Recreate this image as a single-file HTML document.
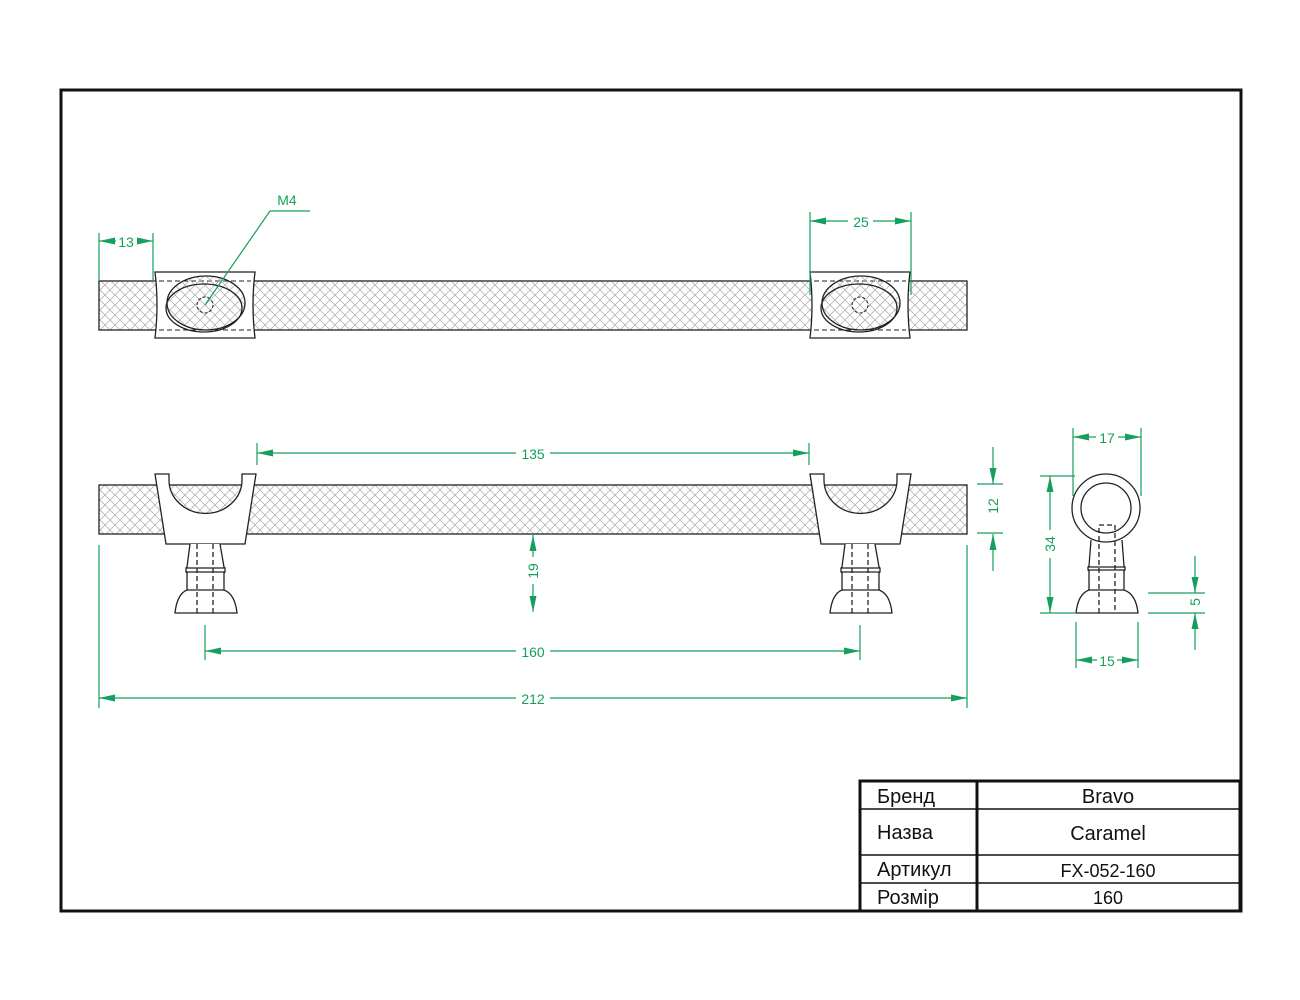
<!DOCTYPE html>
<html><head><meta charset="utf-8"><style>
html,body{margin:0;padding:0;background:#fff}
svg{display:block}
text{font-family:"Liberation Sans",sans-serif}
</style></head><body>
<svg width="1300" height="1000" viewBox="0 0 1300 1000" xmlns="http://www.w3.org/2000/svg">
<defs>
<pattern id="h" width="10" height="10" patternUnits="userSpaceOnUse">
<path d="M0 0L10 10M10 0L0 10" stroke="#a8a8a8" stroke-width="0.7"/>
</pattern>
<marker id="a" viewBox="0 0 16 7" refX="16" refY="3.5" markerWidth="16" markerHeight="7" markerUnits="userSpaceOnUse" orient="auto-start-reverse">
<path d="M0 0L16 3.5L0 7z" fill="#14a05a"/>
</marker>
<g id="tb">
<path d="M-50 -33 L50 -33 Q46 0 50 33 L-50 33 Q-46 0 -50 -33Z" fill="#fff" stroke="#222" stroke-width="1.3"/>
<line x1="-46" y1="-24" x2="46" y2="-24" stroke="#222" stroke-dasharray="5,3"/>
<line x1="-46" y1="25" x2="46" y2="25" stroke="#222" stroke-dasharray="5,3"/>
<ellipse cx="1" cy="-2" rx="39" ry="27" fill="url(#h)" stroke="#222" stroke-width="1.3"/>
<ellipse cx="-1" cy="3" rx="38" ry="24" fill="none" stroke="#222" stroke-width="1.3"/>
<circle cx="0" cy="0" r="8" fill="none" stroke="#222" stroke-dasharray="3,2"/>
</g>
<g id="sb" stroke="#222" stroke-width="1.3">
<path d="M-50 -11 L-36 -11 L-36 -5 A36 33 0 0 0 37 -5 L37 -11 L51 -11 L40 59 L-39 59Z" fill="#fff"/>
<path d="M-15 59 L-18 82 L-19 83 L-19 87 L-18 88 L-18 105 Q-28 109 -30 128 L32 128 Q30 109 19 105 L19 88 L20 87 L20 83 L19 82 L15 59" fill="#fff"/>
<line x1="-19" y1="83" x2="20" y2="83"/><line x1="-19" y1="87" x2="20" y2="87"/>
<line x1="-18" y1="105" x2="19" y2="105"/>
<line x1="-8" y1="59" x2="-8" y2="128" stroke-dasharray="5,3"/>
<line x1="8" y1="59" x2="8" y2="128" stroke-dasharray="5,3"/>
</g>
</defs>
<rect x="61" y="90" width="1180" height="821" fill="none" stroke="#111" stroke-width="3"/>

<rect x="99" y="281" width="868" height="49" fill="url(#h)" stroke="#222" stroke-width="1.3"/>
<use href="#tb" x="205" y="305"/>
<use href="#tb" x="860" y="305"/>

<rect x="99" y="485" width="868" height="49" fill="url(#h)" stroke="#222" stroke-width="1.3"/>
<use href="#sb" x="205" y="485"/>
<use href="#sb" x="860" y="485"/>

<g stroke="#222" stroke-width="1.3" fill="none">
<path d="M1091 540 L1089 566 L1088 567 L1088 570 L1089 571 L1089 590 Q1078 594 1076 613 L1138 613 Q1136 594 1124 590 L1124 571 L1125 570 L1125 567 L1124 566 L1122 540" fill="#fff"/>
<line x1="1088" y1="567" x2="1125" y2="567"/><line x1="1088" y1="570" x2="1125" y2="570"/>
<line x1="1089" y1="590" x2="1124" y2="590"/>
<circle cx="1106" cy="508" r="34" fill="#fff"/>
<circle cx="1106" cy="508" r="25"/>
<path d="M1099 613 L1099 525 L1115 525 L1115 613" stroke-dasharray="5,3"/>
</g>

<g stroke="#14a05a" stroke-width="1.2" fill="none">
<line x1="99" y1="233" x2="99" y2="281"/><line x1="153" y1="233" x2="153" y2="281"/>
<line x1="116" y1="241" x2="99" y2="241" marker-end="url(#a)"/><line x1="137" y1="241" x2="153" y2="241" marker-end="url(#a)"/>
<polyline points="205,305 270,211 310,211"/>
<line x1="810" y1="212" x2="810" y2="295"/><line x1="911" y1="212" x2="911" y2="295"/>
<line x1="848" y1="221" x2="810" y2="221" marker-end="url(#a)"/><line x1="873" y1="221" x2="911" y2="221" marker-end="url(#a)"/>
<line x1="257" y1="443" x2="257" y2="465"/><line x1="809" y1="443" x2="809" y2="465"/>
<line x1="516" y1="453" x2="257" y2="453" marker-end="url(#a)"/><line x1="550" y1="453" x2="809" y2="453" marker-end="url(#a)"/>
<line x1="977" y1="484" x2="1003" y2="484"/><line x1="977" y1="533" x2="1003" y2="533"/>
<line x1="993" y1="447" x2="993" y2="484" marker-end="url(#a)"/><line x1="993" y1="571" x2="993" y2="534" marker-end="url(#a)"/>
<line x1="533" y1="557" x2="533" y2="535" marker-end="url(#a)"/><line x1="533" y1="584" x2="533" y2="612" marker-end="url(#a)"/>
<line x1="205" y1="625" x2="205" y2="660"/><line x1="860" y1="625" x2="860" y2="660"/>
<line x1="516" y1="651" x2="205" y2="651" marker-end="url(#a)"/><line x1="550" y1="651" x2="860" y2="651" marker-end="url(#a)"/>
<line x1="99" y1="545" x2="99" y2="708"/><line x1="967" y1="545" x2="967" y2="708"/>
<line x1="516" y1="698" x2="99" y2="698" marker-end="url(#a)"/><line x1="550" y1="698" x2="967" y2="698" marker-end="url(#a)"/>
<line x1="1073" y1="428" x2="1073" y2="496"/><line x1="1141" y1="428" x2="1141" y2="496"/>
<line x1="1096" y1="437" x2="1073" y2="437" marker-end="url(#a)"/><line x1="1118" y1="437" x2="1141" y2="437" marker-end="url(#a)"/>
<line x1="1040" y1="476" x2="1075" y2="476"/><line x1="1040" y1="613" x2="1075" y2="613"/>
<line x1="1050" y1="530" x2="1050" y2="476" marker-end="url(#a)"/><line x1="1050" y1="558" x2="1050" y2="613" marker-end="url(#a)"/>
<line x1="1076" y1="622" x2="1076" y2="668"/><line x1="1138" y1="622" x2="1138" y2="668"/>
<line x1="1097" y1="660" x2="1076" y2="660" marker-end="url(#a)"/><line x1="1117" y1="660" x2="1138" y2="660" marker-end="url(#a)"/>
<line x1="1148" y1="593" x2="1205" y2="593"/><line x1="1148" y1="613" x2="1205" y2="613"/>
<line x1="1195" y1="556" x2="1195" y2="593" marker-end="url(#a)"/><line x1="1195" y1="650" x2="1195" y2="613" marker-end="url(#a)"/>
</g>
<g fill="#14a05a" font-size="14" text-anchor="middle">
<text x="126" y="247">13</text>
<text x="287" y="205">M4</text>
<text x="861" y="227">25</text>
<text x="533" y="459">135</text>
<text x="533" y="657">160</text>
<text x="533" y="704">212</text>
<text x="1107" y="443">17</text>
<text x="1107" y="666">15</text>
<text transform="translate(998,506) rotate(-90)">12</text>
<text transform="translate(538,571) rotate(-90)">19</text>
<text transform="translate(1055,544) rotate(-90)">34</text>
<text transform="translate(1200,602) rotate(-90)">5</text>
</g>

<g stroke="#111" stroke-width="3" fill="none">
<rect x="860" y="781" width="380" height="130"/>
<line x1="977" y1="781" x2="977" y2="911"/>
</g>
<g stroke="#111" stroke-width="1.5">
<line x1="860" y1="809" x2="1240" y2="809"/>
<line x1="860" y1="855" x2="1240" y2="855"/>
<line x1="860" y1="883" x2="1240" y2="883"/>
</g>
<g fill="#111" font-size="20">
<text x="877" y="803">Бренд</text>
<text x="877" y="839">Назва</text>
<text x="877" y="876">Артикул</text>
<text x="877" y="904">Розмір</text>
<text x="1108" y="803" text-anchor="middle">Bravo</text>
<text x="1108" y="840" text-anchor="middle">Caramel</text>
<text x="1108" y="877" font-size="18" text-anchor="middle">FX-052-160</text>
<text x="1108" y="904" font-size="18" text-anchor="middle">160</text>
</g>
</svg>
</body></html>
